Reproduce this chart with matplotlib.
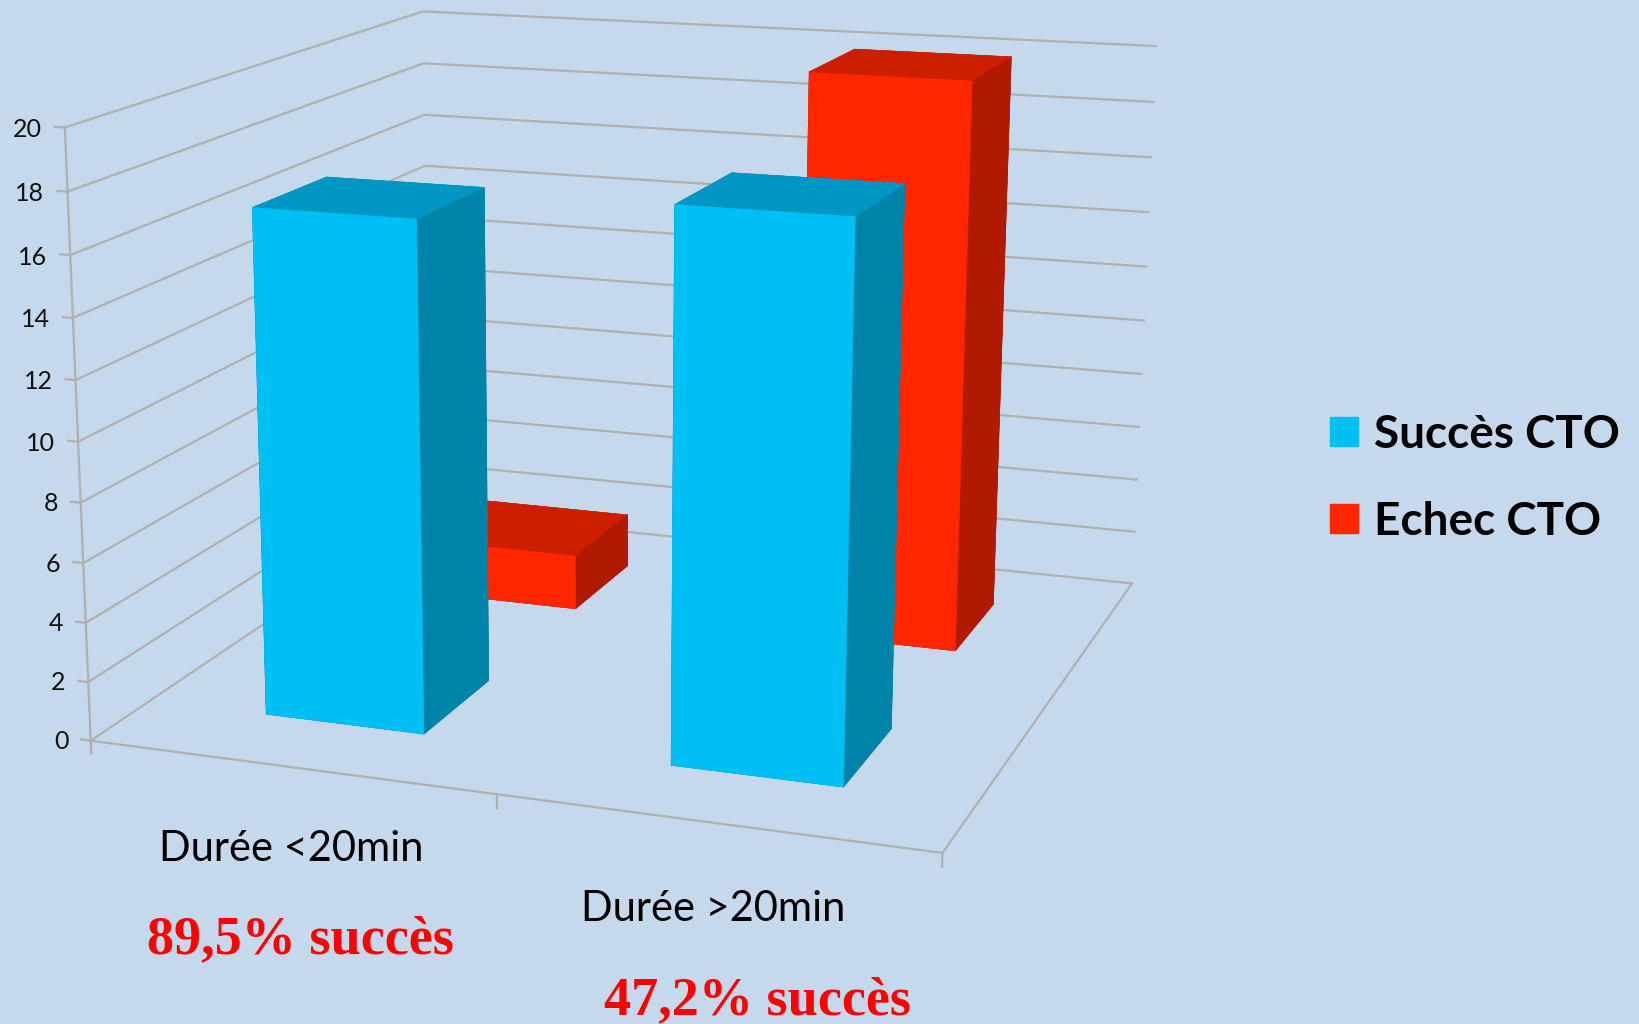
import numpy as np
import matplotlib
matplotlib.use("Agg")
import matplotlib.pyplot as plt
from matplotlib.patches import Patch
from mpl_toolkits.mplot3d import proj3d

plt.rcParams["font.family"] = ["Lato", "DejaVu Sans"]

# values
categories = ["Durée <20min", "Durée >20min"]
series = ["Succès CTO", "Echec CTO"]
succes = [17, 18]
echec = [2, 20]
annotations = ["89,5% succès", "47,2% succès"]
yticks = list(range(0, 21, 2))

BG = "#C6D9EC"
GRID = "#B0B0B0"
# front, top, side shades for each series
BLUE = ("#00BFF3", "#0096C4", "#0083A9")
RED = ("#FF2600", "#CC1F00", "#B01A00")

fig = plt.figure(figsize=(16.4, 10.24), dpi=100, facecolor=BG)
ax = fig.add_axes([-0.0776, -0.1272, 0.8116, 1.2999], projection="3d")
ax.set_axis_off()
ax.set_facecolor("none")
ax.computed_zorder = False

# camera matched to the Excel 3-D view (look-at box is slightly shifted)
ax.set_xlim(-0.086, 1.914)
ax.set_ylim(-0.401, 1.599)
ax.set_zlim(-1.945, 18.055)
ax.set_box_aspect((1, 1.009, 0.7083))
ax.view_init(elev=15.333, azim=-69.41, roll=0.185)
ax.set_proj_type("persp", focal_length=0.467)
M = ax.get_proj()


def label3d(x, y, z, s, **kw):
    # project once and place as a flat text so it keeps its real position
    px, py, _ = proj3d.proj_transform(x, y, z, M)
    ax.text2D(px, py, s, transform=ax.transData, **kw)


ncat, nser, zmax = len(categories), len(series), yticks[-1]

# walls: left + back gridlines, floor outline, value axis
for z in yticks:
    ax.plot([0, 0, ncat], [0, nser, nser], [z, z, z], color=GRID, lw=1.6, zorder=1)
    ax.plot([0, -0.025], [0, 0], [z, z], color=GRID, lw=1.6, zorder=1)
    label3d(-0.058, 0, z - 0.12, str(z), ha="right", va="center", fontsize=18, color="#111111")
ax.plot([0, ncat, ncat], [0, 0, nser], [0, 0, 0], color=GRID, lw=1.6, zorder=1)
ax.plot([0, 0], [0, 0], [0, zmax], color=GRID, lw=1.6, zorder=1)
for i in range(ncat + 1):
    ax.plot([i, i], [0, 0], [0, -0.45], color=GRID, lw=1.6, zorder=1)


def faces(c):
    front, top, side = c
    # bar3d face order: -z, +z, -y, +y, -x, +x
    return [side, top, front, side, side, side]


w = 0.4
xs = np.arange(ncat) + 0.5 - w / 2
for k, (vals, col) in enumerate([(echec, RED), (succes, BLUE)]):
    row = nser - 1 - k  # Succès in front, Echec behind
    fc = faces(col) * ncat
    ax.bar3d(xs, [row + 0.5 - w / 2] * ncat, [0] * ncat, w, w, vals,
             color=fc, edgecolor=fc, linewidth=0.4, shade=False, zorder=3 + k)

for i, cat in enumerate(categories):
    label3d(i + 0.5, 0, -2.78, cat, ha="center", va="center", fontsize=30, color="black")

fig.text(0.183, 0.082, annotations[0], ha="center", va="center", color="#FF0000",
         fontsize=39, fontweight="bold", family="Liberation Serif")
fig.text(0.4616, 0.0225, annotations[1], ha="center", va="center", color="#FF0000",
         fontsize=39, fontweight="bold", family="Liberation Serif")

handles = [Patch(color=BLUE[0], label=series[0]), Patch(color=RED[0], label=series[1])]
fig.legend(handles=handles, loc="center left", bbox_to_anchor=(0.811, 0.533), frameon=False,
           prop={"size": 33, "weight": "bold"}, handlelength=0.62, handleheight=0.62,
           handletextpad=0.33, labelspacing=0.98, borderpad=0, borderaxespad=0)

fig.savefig("out.png", dpi=100, facecolor=BG)
